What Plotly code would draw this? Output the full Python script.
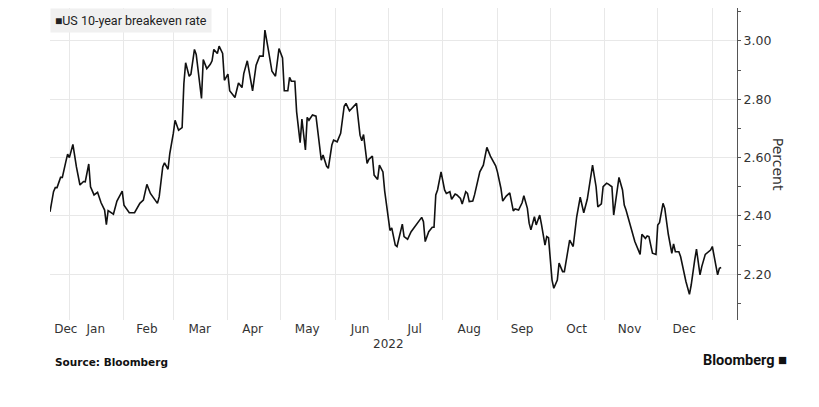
import plotly.graph_objects as go

# US 10-year breakeven rate
dates = [
    "2021-12-21", "2021-12-23", "2021-12-24", "2021-12-25", "2021-12-27", "2021-12-28", "2021-12-30", "2021-12-31",
    "2022-01-01", "2022-01-03", "2022-01-05", "2022-01-07", "2022-01-09", "2022-01-10", "2022-01-12", "2022-01-13",
    "2022-01-15", "2022-01-17", "2022-01-19", "2022-01-21", "2022-01-22", "2022-01-23", "2022-01-26", "2022-01-28",
    "2022-01-31", "2022-02-01", "2022-02-04", "2022-02-07", "2022-02-10", "2022-02-12", "2022-02-14", "2022-02-16",
    "2022-02-20", "2022-02-21", "2022-02-23", "2022-02-24", "2022-02-26", "2022-02-27", "2022-03-01", "2022-03-02",
    "2022-03-04", "2022-03-06", "2022-03-07", "2022-03-08", "2022-03-10", "2022-03-11", "2022-03-13", "2022-03-14",
    "2022-03-17", "2022-03-18", "2022-03-20", "2022-03-22", "2022-03-23", "2022-03-24", "2022-03-26", "2022-03-27",
    "2022-03-29", "2022-03-30", "2022-04-01", "2022-04-02", "2022-04-05", "2022-04-07", "2022-04-09", "2022-04-10",
    "2022-04-12", "2022-04-15", "2022-04-17", "2022-04-19", "2022-04-21", "2022-04-22", "2022-04-24", "2022-04-26",
    "2022-04-28", "2022-04-30", "2022-05-02", "2022-05-03", "2022-05-05", "2022-05-06", "2022-05-07", "2022-05-09",
    "2022-05-10", "2022-05-12", "2022-05-13", "2022-05-15", "2022-05-16", "2022-05-17", "2022-05-19", "2022-05-21",
    "2022-05-24", "2022-05-25", "2022-05-27", "2022-05-28", "2022-05-30", "2022-05-31", "2022-06-02", "2022-06-04",
    "2022-06-06", "2022-06-07", "2022-06-09", "2022-06-11", "2022-06-13", "2022-06-15", "2022-06-16", "2022-06-17",
    "2022-06-19", "2022-06-20", "2022-06-22", "2022-06-23", "2022-06-25", "2022-06-26", "2022-06-28", "2022-06-29",
    "2022-07-01", "2022-07-02", "2022-07-03", "2022-07-05", "2022-07-06", "2022-07-08", "2022-07-09", "2022-07-10",
    "2022-07-12", "2022-07-14", "2022-07-15", "2022-07-17", "2022-07-18", "2022-07-20", "2022-07-21", "2022-07-22",
    "2022-07-24", "2022-07-26", "2022-07-27", "2022-07-28", "2022-07-29", "2022-07-31", "2022-08-02", "2022-08-03",
    "2022-08-05", "2022-08-06", "2022-08-08", "2022-08-09", "2022-08-11", "2022-08-12", "2022-08-14", "2022-08-15",
    "2022-08-16", "2022-08-18", "2022-08-19", "2022-08-22", "2022-08-24", "2022-08-26", "2022-08-28", "2022-08-30",
    "2022-08-31", "2022-09-01", "2022-09-03", "2022-09-04", "2022-09-06", "2022-09-08", "2022-09-10", "2022-09-11",
    "2022-09-13", "2022-09-15", "2022-09-16", "2022-09-18", "2022-09-19", "2022-09-20", "2022-09-22", "2022-09-23",
    "2022-09-25", "2022-09-26", "2022-09-28", "2022-09-29", "2022-09-30", "2022-10-02", "2022-10-03", "2022-10-05",
    "2022-10-06", "2022-10-08", "2022-10-09", "2022-10-12", "2022-10-14", "2022-10-16", "2022-10-18", "2022-10-20",
    "2022-10-22", "2022-10-25", "2022-10-27", "2022-10-28", "2022-10-30", "2022-10-31", "2022-11-02", "2022-11-03",
    "2022-11-05", "2022-11-06", "2022-11-08", "2022-11-09", "2022-11-11", "2022-11-12", "2022-11-13", "2022-11-15",
    "2022-11-18", "2022-11-21", "2022-11-22", "2022-11-24", "2022-11-25", "2022-11-26", "2022-11-28", "2022-11-30",
    "2022-12-01", "2022-12-02", "2022-12-04", "2022-12-05", "2022-12-07", "2022-12-09", "2022-12-10", "2022-12-11",
    "2022-12-13", "2022-12-14", "2022-12-16", "2022-12-17", "2022-12-19", "2022-12-20", "2022-12-22", "2022-12-23",
    "2022-12-25", "2022-12-26", "2022-12-28", "2022-12-30", "2022-12-31", "2023-01-01", "2023-01-04", "2023-01-05",
    "2023-01-06",
]
breakeven = [
    2.414, 2.483, 2.497, 2.497, 2.532, 2.532, 2.586, 2.612,
    2.600, 2.645, 2.568, 2.506, 2.518, 2.517, 2.578, 2.500,
    2.472, 2.481, 2.445, 2.420, 2.370, 2.418, 2.406, 2.451,
    2.485, 2.437, 2.411, 2.411, 2.443, 2.454, 2.508, 2.477,
    2.443, 2.466, 2.568, 2.582, 2.560, 2.614, 2.683, 2.728,
    2.694, 2.703, 2.854, 2.925, 2.879, 2.886, 2.971, 2.954,
    2.803, 2.936, 2.905, 2.920, 2.932, 2.971, 2.957, 2.982,
    2.957, 2.865, 2.886, 2.829, 2.806, 2.856, 2.840, 2.888,
    2.932, 2.829, 2.917, 2.948, 2.948, 3.037, 2.968, 2.896,
    2.879, 2.974, 2.942, 2.829, 2.829, 2.875, 2.862, 2.862,
    2.757, 2.651, 2.732, 2.626, 2.738, 2.728, 2.746, 2.742,
    2.591, 2.609, 2.571, 2.563, 2.643, 2.660, 2.654, 2.683,
    2.776, 2.786, 2.760, 2.772, 2.786, 2.677, 2.658, 2.679,
    2.580, 2.594, 2.605, 2.540, 2.525, 2.574, 2.551, 2.485,
    2.394, 2.350, 2.359, 2.300, 2.295, 2.352, 2.372, 2.329,
    2.320, 2.346, 2.354, 2.372, 2.377, 2.395, 2.380, 2.312,
    2.346, 2.361, 2.361, 2.472, 2.489, 2.551, 2.489, 2.477,
    2.483, 2.457, 2.475, 2.472, 2.460, 2.441, 2.483, 2.477,
    2.449, 2.451, 2.472, 2.551, 2.574, 2.635, 2.605, 2.582,
    2.572, 2.551, 2.494, 2.451, 2.468, 2.479, 2.417, 2.424,
    2.420, 2.445, 2.469, 2.426, 2.375, 2.352, 2.397, 2.369,
    2.403, 2.371, 2.300, 2.329, 2.325, 2.180, 2.152, 2.180,
    2.238, 2.209, 2.209, 2.317, 2.295, 2.397, 2.464, 2.411,
    2.457, 2.574, 2.500, 2.431, 2.441, 2.500, 2.512, 2.509,
    2.500, 2.403, 2.483, 2.532, 2.489, 2.437, 2.420, 2.380,
    2.312, 2.268, 2.337, 2.323, 2.331, 2.329, 2.272, 2.268,
    2.369, 2.377, 2.443, 2.426, 2.337, 2.272, 2.304, 2.277,
    2.277, 2.260, 2.194, 2.175, 2.131, 2.163, 2.249, 2.286,
    2.198, 2.226, 2.268, 2.277, 2.283, 2.295, 2.198, 2.220,
    2.223,
]

# month labels sit mid-month, grid lines at month starts
month_labels = ["Dec", "Jan", "Feb", "Mar", "Apr", "May", "Jun", "Jul", "Aug", "Sep", "Oct", "Nov", "Dec"]
label_dates = ["2021-12-30", "2022-01-16", "2022-02-14", "2022-03-16", "2022-04-15", "2022-05-16", "2022-06-15",
               "2022-07-16", "2022-08-16", "2022-09-15", "2022-10-16", "2022-11-15", "2022-12-16"]
month_starts = ["2022-%02d-01" % m for m in range(1, 13)] + ["2023-01-01"]
y_ticks = [2.2, 2.4, 2.6, 2.8, 3.0]

grid = "#e8e8e8"
font = "DejaVu Sans"

fig = go.Figure()
fig.add_trace(go.Scatter(x=dates, y=breakeven, mode="lines",
                         line=dict(color="#111111", width=1.6), showlegend=False))

# page body keeps its 8px margin, so the figure is 8px smaller each way
fig.update_layout(
    width=811, height=399,
    margin=dict(l=42, r=82, t=0, b=87),
    paper_bgcolor="white", plot_bgcolor="white",
    font=dict(family=font, color="#333333", size=12),
    xaxis=dict(
        type="date", range=["2021-12-21", "2023-01-15"],
        tickmode="array", tickvals=label_dates, ticktext=month_labels,
        showgrid=False, zeroline=False, showline=False, ticks="",
        tickfont=dict(size=12, color="#333333"),
        minor=dict(tickmode="array", tickvals=month_starts, showgrid=True,
                   gridcolor=grid, gridwidth=1, ticks=""),
    ),
    yaxis=dict(
        side="right", range=[2.043, 3.113],
        tickmode="array", tickvals=y_ticks, tickformat=".2f",
        showgrid=True, gridcolor=grid, gridwidth=1, zeroline=False,
        showline=True, linecolor="#555555", linewidth=1,
        ticks="outside", ticklen=3, tickcolor="#555555",
        tickfont=dict(size=12.5, color="#333333"),
        minor=dict(dtick=0.1, ticks="outside", ticklen=3, tickcolor="#555555", showgrid=False),
    ),
)

# legend box
fig.add_annotation(xref="paper", yref="paper", x=0, y=1, xanchor="left", yanchor="top",
                   text="<span style='font-size:12px'>■</span>US 10-year breakeven rate", showarrow=False,
                   font=dict(family="Roboto", size=12.5, color="#222222"),
                   bgcolor="#f0f0f0", borderpad=4, align="left")
# axis title, reading top to bottom
fig.add_annotation(xref="paper", yref="paper", x=1.06, y=0.5, xanchor="center", yanchor="middle",
                   text="Percent", textangle=90,
                   showarrow=False, font=dict(family=font, size=14, color="#333333"))
fig.add_annotation(xref="x", yref="paper", x="2022-07-01", y=-0.077, yanchor="middle", text="2022",
                   showarrow=False, font=dict(family=font, size=12, color="#333333"))
fig.add_annotation(xref="paper", yref="paper", x=0.004, y=-0.135, xanchor="left", yanchor="middle",
                   text="<b>Source: Bloomberg</b>", showarrow=False,
                   font=dict(family=font, size=10.5, color="#111111"))
fig.add_annotation(xref="paper", yref="paper", x=1.075, y=-0.128, xanchor="right", yanchor="middle",
                   text="<b>Bloomberg</b> <span style='font-size:15px'>■</span>", showarrow=False,
                   font=dict(family="Roboto", size=14.5, color="#111111"))

fig.write_html("out.html")
